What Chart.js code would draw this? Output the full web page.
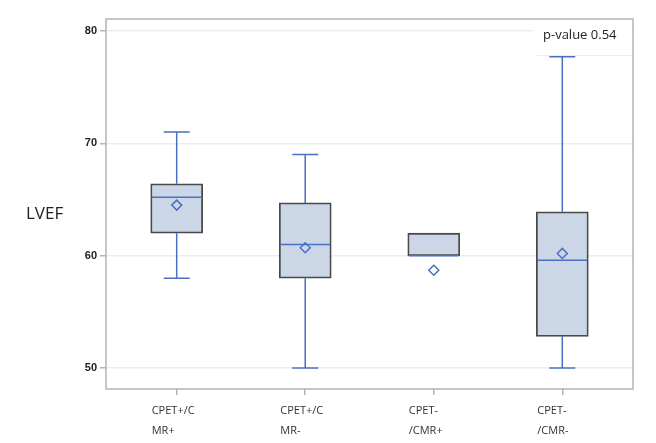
<!DOCTYPE html>
<html>
<head>
<meta charset="utf-8">
<script src="https://cdn.jsdelivr.net/npm/chart.js@4/dist/chart.umd.min.js"></script>
<style>
  html, body { margin: 0; padding: 0; background: #fff; }
  #wrap { width: 656px; height: 443px; }
</style>
</head>
<body>
<div id="wrap"><canvas id="chart" width="656" height="443"></canvas></div>
<script>
// box plot values
const categories = [['CPET+/C', 'MR+'], ['CPET+/C', 'MR-'], ['CPET-', '/CMR+'], ['CPET-', '/CMR-']];
const whiskerLow = [58, 50, 60, 50];
const q1 = [62, 58, 60, 52.8];
const median = [65.2, 61, 60, 59.6];
const q3 = [66.4, 64.7, 62, 63.9];
const whiskerHigh = [71, 69, 62, 77.7];
const means = [64.5, 60.7, 58.7, 60.2];
const yTicks = [50, 60, 70, 80];
const yTitle = 'LVEF';
const pText = 'p-value 0.54';

const blue = '#4a6fc4';
const frameGrey = '#b4b4b4';

const boxPlot = {
    id: 'boxPlot',
    beforeDatasetsDraw(chart) {
        const { ctx, chartArea: a, scales: { x, y } } = chart;
        ctx.save();
        // frame
        ctx.strokeStyle = frameGrey;
        ctx.lineWidth = 1.5;
        ctx.strokeRect(a.left, a.top, a.right - a.left, a.bottom - a.top);

        // p-value box sits on the grid, under the marks
        ctx.fillStyle = '#fff';
        ctx.fillRect(533, a.top + 1, a.right - 534, 34);
        ctx.strokeStyle = '#eeeeee';
        ctx.lineWidth = 1;
        ctx.beginPath();
        ctx.moveTo(537, 55.5);
        ctx.lineTo(a.right - 1, 55.5);
        ctx.stroke();
        ctx.fillStyle = '#222';
        ctx.font = '13px "Open Sans"';
        ctx.textBaseline = 'middle';
        ctx.fillText(pText, 543, 35);

        // whiskers
        ctx.strokeStyle = blue;
        ctx.lineWidth = 1.5;
        categories.forEach((c, i) => {
            const px = x.getPixelForValue(i);
            const half = 13;
            [[q3[i], whiskerHigh[i]], [q1[i], whiskerLow[i]]].forEach(([from, to]) => {
                if (from === to) return;
                ctx.beginPath();
                ctx.moveTo(px, y.getPixelForValue(from));
                ctx.lineTo(px, y.getPixelForValue(to));
                ctx.moveTo(px - half, y.getPixelForValue(to));
                ctx.lineTo(px + half, y.getPixelForValue(to));
                ctx.stroke();
            });
        });
        ctx.restore();
    },
    afterDatasetDraw(chart, args) {
        if (args.index !== 0) return;
        const { ctx, scales: { x, y } } = chart;
        ctx.save();
        ctx.strokeStyle = blue;
        ctx.lineWidth = 1.5;
        categories.forEach((c, i) => {
            const px = x.getPixelForValue(i);
            const py = y.getPixelForValue(median[i]);
            ctx.beginPath();
            ctx.moveTo(px - 25, py);
            ctx.lineTo(px + 25, py);
            ctx.stroke();
        });
        ctx.restore();
    },
    afterDraw(chart) {
        const { ctx } = chart;
        ctx.save();
        // y title, horizontal
        ctx.fillStyle = '#222';
        ctx.textBaseline = 'middle';
        ctx.font = '17px "Open Sans"';
        ctx.fillText(yTitle, 26, 214);
        ctx.restore();
    }
};

new Chart(document.getElementById('chart'), {
    data: {
        datasets: [
            {
                type: 'bar',
                data: q1.map((v, i) => ({ x: i, y: [v, q3[i]] })),
                backgroundColor: '#cbd6e7',
                borderColor: '#4a4a4a',
                borderWidth: 1.8,
                borderSkipped: false,
                barThickness: 52,
                order: 2
            },
            {
                type: 'line',
                data: means.map((v, i) => ({ x: i, y: v })),
                showLine: false,
                pointStyle: 'rectRot',
                pointRadius: 5,
                pointBorderWidth: 1.5,
                pointBorderColor: blue,
                pointBackgroundColor: 'rgba(0,0,0,0)',
                order: 1
            }
        ]
    },
    options: {
        responsive: false,
        animation: false,
        layout: { padding: { top: 19, right: 23, left: 0, bottom: 0 } },
        plugins: { legend: { display: false }, tooltip: { enabled: false } },
        scales: {
            x: {
                type: 'linear',
                min: -0.55,
                max: 3.55,
                offset: false,
                afterBuildTicks: s => { s.ticks = categories.map((c, i) => ({ value: i })); },
                afterFit: s => { s.height = 54; },
                border: { display: false },
                grid: { offset: false, drawOnChartArea: false, tickLength: 6, tickColor: frameGrey, lineWidth: 1.5 },
                ticks: {
                    callback: v => categories[v],
                    align: 'start',
                    labelOffset: -25,
                    maxRotation: 0,
                    padding: 6,
                    color: '#333',
                    font: { family: '"Open Sans"', size: 11, lineHeight: '20px' }
                }
            },
            y: {
                min: 48.13,
                max: 81.07,
                afterBuildTicks: s => { s.ticks = yTicks.map(v => ({ value: v })); },
                afterFit: s => { s.width = 106; },
                border: { display: false },
                grid: { color: '#ededed', lineWidth: 1.5, tickLength: 6, tickColor: frameGrey },
                ticks: {
                    padding: 3,
                    color: '#222',
                    font: { family: '"Liberation Sans"', size: 11, weight: 'bold' }
                }
            }
        }
    },
    plugins: [boxPlot]
});
</script>
</body>
</html>
